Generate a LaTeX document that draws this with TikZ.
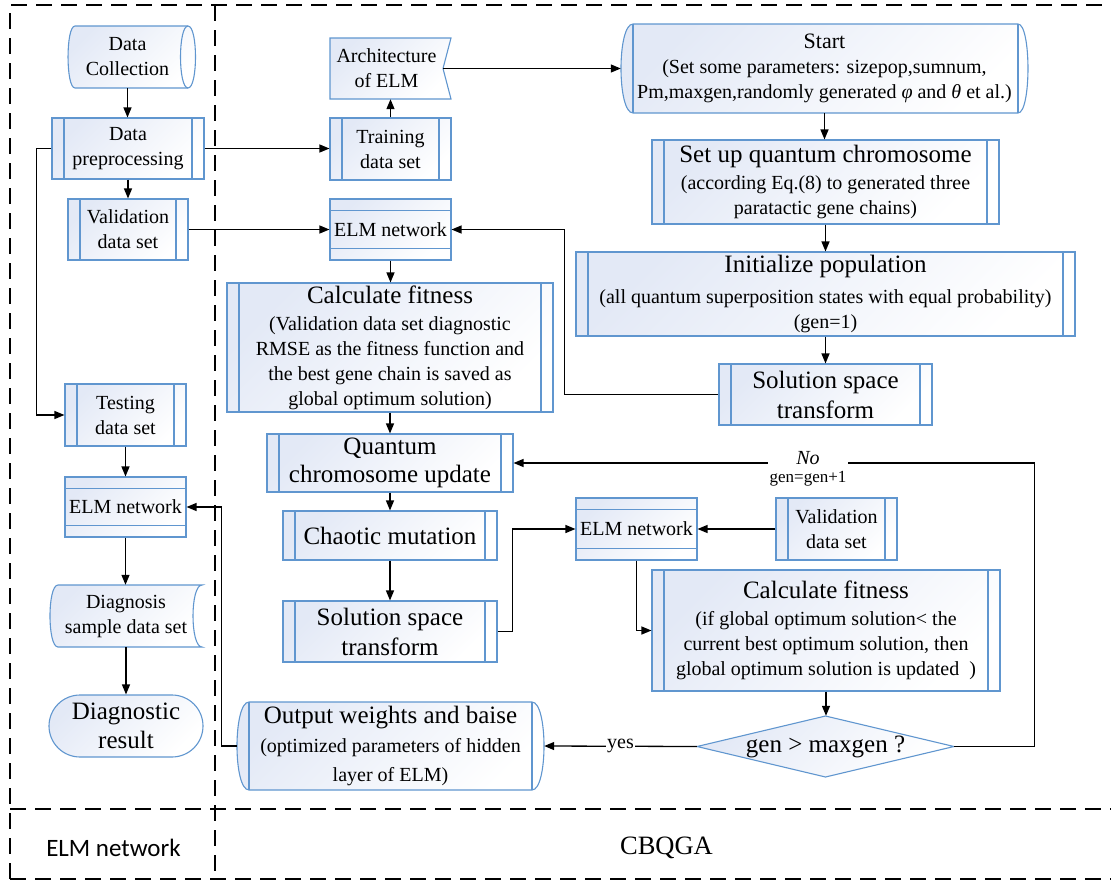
\documentclass[tikz,border=0pt]{standalone}
\usepackage{fontspec}
\setmainfont{Liberation Serif}
\newfontfamily\carlitofont{Carlito}
\usetikzlibrary{arrows.meta,calc}
\definecolor{bordc}{HTML}{6096CF}
\definecolor{fillc}{HTML}{E3E9F6}
\newcommand\subf{\fontsize{20}{25}\selectfont}
\newcommand\titf{\fontsize{25}{29}\selectfont}
\begin{document}
\begin{tikzpicture}[x=1pt,y=-1pt,
  shp/.style={draw=bordc, line width=1.1pt, top color=fillc, bottom color=white, shading angle=45},
  box/.style={shp, inner sep=0pt, align=center, font=\subf},
  lbl/.style={inner sep=0pt, align=center, font=\subf},
  wh/.style 2 args={minimum width=#1pt, minimum height=#2pt},
  proc/.style={box, path picture={\draw[bordc, line width=1.1pt]
     ([xshift=12pt]path picture bounding box.north west) -- ([xshift=12pt]path picture bounding box.south west)
     ([xshift=-12pt]path picture bounding box.north east) -- ([xshift=-12pt]path picture bounding box.south east);}},
  elm/.style={box, path picture={\draw[bordc, line width=1.1pt]
     ([yshift=-11.5pt]path picture bounding box.north west) -- ([yshift=-11.5pt]path picture bounding box.north east)
     ([yshift=11.5pt]path picture bounding box.south west) -- ([yshift=11.5pt]path picture bounding box.south east);}},
  arr/.style={-{Triangle[length=10pt,width=8pt]}, line width=1.3pt},
  frame/.style={dash pattern=on 16pt off 9pt, line width=2pt}]
\useasboundingbox (0,0) rectangle (1111,881);

% frame
\draw[frame] (10,879) -- (10,5) -- (1118,5);
\draw[frame] (10,879) -- (1118,879);
\draw[frame] (215,5) -- (215,879);
\draw[frame] (10,809) -- (1118,809);
\node[font=\carlitofont\fontsize{25}{30}\selectfont] (lb1) at (113.5,848) {ELM network};
\node[font=\fontsize{26.5}{30}\selectfont] (lb2) at (666.5,848) {CBQGA};

% ---- left column ----
\path[shp] (75,26) -- (188,26) .. controls (198,26) and (198,88) .. (188,88) -- (75,88)
   .. controls (65.7,88) and (65.7,26) .. (75,26) -- cycle;
\draw[bordc, line width=1.1pt] (188,26) .. controls (178,26) and (178,88) .. (188,88);
\node[lbl, wh={120}{62}] (dc) at (127.5,57) {Data\\Collection};
\node[proc, wh={152}{61}] (dp) at (128,148.5) {Data\\preprocessing};
\node[proc, wh={120}{61}] (vl) at (128,229.5) {Validation\\data set};
\node[proc, wh={121}{62}] (ts) at (125.5,415) {Testing\\data set};
\node[elm, wh={121}{60}] (el) at (125.5,507) {ELM network};
\path[shp] (58,585) -- (202,585) .. controls (190,585) and (190,647) .. (202,647) -- (58,647)
   .. controls (47.3,647) and (47.3,585) .. (58,585) -- cycle;
\node[lbl, wh={140}{62}] (dg) at (126,616) {Diagnosis\\sample data set};
\node[box, rounded corners=31pt, wh={154}{62}, font=\titf] (dr) at (126,726) {Diagnostic\\result};

% ---- middle column ----
\path[shp] (330,38) -- (451,38) -- (443,68.5) -- (451,99) -- (330,99) -- cycle;
\node[lbl, wh={113}{61}] (ar) at (386.5,68.5) {Architecture\\of ELM};
\node[proc, wh={121}{62}] (tr) at (390.5,149) {Training\\data set};
\node[elm, wh={121}{61}] (em) at (390.5,229.5) {ELM network};
\node[proc, wh={326}{129}] (cf1) at (390,347.5) {{\titf Calculate fitness}\\[2pt](Validation data set diagnostic\\RMSE as the fitness function and\\the best gene chain is saved as\\global optimum solution)};
\node[proc, wh={246}{58}, font=\fontsize{25}{28}\selectfont] (qu) at (390,463) {Quantum\\chromosome update};
\node[proc, wh={214}{49}, font=\titf] (cm) at (390,535.5) {Chaotic mutation};
\node[proc, wh={214}{61}, font=\fontsize{25}{30}\selectfont] (ss1) at (390,631.5) {Solution space\\transform};
\path[shp] (249,702) -- (532,702) .. controls (548,702) and (548,790) .. (532,790) -- (249,790)
   .. controls (233,790) and (233,702) .. (249,702) -- cycle;
\draw[bordc, line width=1.1pt] (249,702) -- (249,790) (532,702) -- (532,790);
\node[lbl, wh={307}{88}, font=\fontsize{20}{29}\selectfont] (ow) at (390.5,746) {{\titf Output weights and baise}\\(optimized parameters of hidden\\layer of ELM)};

% ---- right column ----
\path[shp] (633,24) -- (1018,24) .. controls (1031.3,24) and (1031.3,113) .. (1018,113) -- (633,113)
   .. controls (617,113) and (617,24) .. (633,24) -- cycle;
\draw[bordc, line width=1.1pt] (633,24) -- (633,113) (1018,24) -- (1018,113);
\node[lbl, wh={407}{89}] (st) at (824.5,68.5) {{\fontsize{22}{25}\selectfont Start}\\(Set some parameters: sizepop,sumnum,\\Pm,maxgen,randomly generated {\itshape φ} and {\itshape θ} et al.)};
\node[proc, wh={347}{84}] (sq) at (825.5,182) {{\titf Set up quantum chromosome}\\[2pt](according Eq.(8) to generated three\\paratactic gene chains)};
\node[proc, wh={499}{84}] (ip) at (825.5,294) {{\titf Initialize population}\\[6pt](all quantum superposition states with equal probability)\\(gen=1)};
\node[proc, wh={213}{61}, font=\fontsize{25}{30}\selectfont] (ss2) at (825.5,394.5) {Solution space\\transform};
\node[elm, wh={121}{62}] (er) at (636.5,529) {ELM network};
\node[proc, wh={121}{62}] (vr) at (836.5,529) {Validation\\data set};
\node[proc, wh={348}{121}] (cf2) at (826,630.5) {{\titf Calculate fitness}\\[2pt](if global optimum solution< the\\current best optimum solution, then\\global optimum solution is updated\ \ )};
\path[shp] (697,746.5) -- (825.5,716) -- (954,746.5) -- (825.5,777) -- cycle;
\node[lbl, wh={257}{61}, font=\titf] (dm) at (825.5,746.5) {gen > maxgen ?};

% ---- connectors ----
\draw[arr] (dc.south) -- (dc.south |- dp.north);
\draw[arr] (dp.south) -- (vl.north);
\draw[arr] (dp.east) -- (dp.east -| tr.west);
\draw[arr] (dp.west) -- ++(-15,0) |- (ts.west);
\draw[arr] (ts.south) -- (el.north);
\draw[arr] (el.south) -- (el.south |- dg.north);
\draw[arr] (dg.south) -- (dg.south |- dr.north);
\draw[arr] (tr.north) -- (tr.north |- ar.south);
\draw[arr] (ar.east) -- (st.west);
\draw[arr] (vl.east) -- (em.west);
\draw[arr] (em.south) -- (em.south |- cf1.north);
\draw[arr] (cf1.south) -- (qu.north);
\draw[arr] (qu.south) -- (cm.north);
\draw[arr] (cm.south) -- (ss1.north);
\draw[arr] (st.south) -- (st.south |- sq.north);
\draw[arr] (sq.south) -- (ip.north);
\draw[arr] (ip.south) -- (ss2.north);
\draw[arr] (ss2.west) -- ++(-154,0) |- (em.east);
\draw[arr] (ss1.east) -- ++(15,0) |- (er.west);
\draw[arr] (vr.west) -- (er.east);
\draw[arr] (er.south) |- (cf2.west);
\draw[arr] (cf2.south) -- (cf2.south |- dm.north);
\draw[arr] (dm.west) -- node[fill=white, inner sep=1pt, font=\subf] (yes) {yes} (ow.east);
\draw[arr] (dm.east) -- ++(80.5,0) |- (qu.east);
\draw[arr] (ow.west) -- ++(-15,0) |- (el.east);
\node[fill=white, inner sep=0pt, minimum width=80pt, minimum height=18pt, font=\subf\itshape] (no) at (808,458) {No};
\node[font=\fontsize{17}{20}\selectfont] (gg) at (808,479) {gen=gen+1};
\end{tikzpicture}
\end{document}
